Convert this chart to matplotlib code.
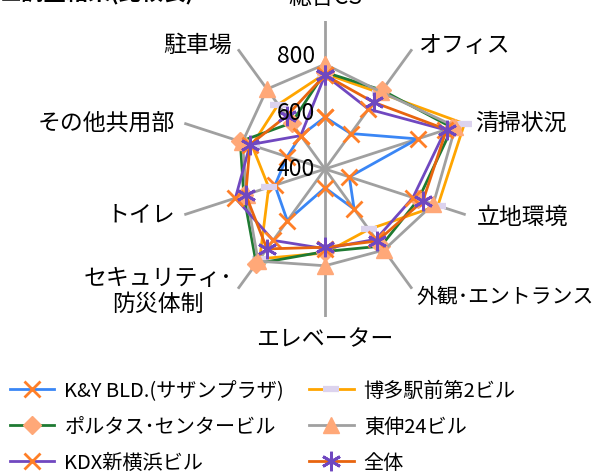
import numpy as np
import matplotlib
matplotlib.use("Agg")
import matplotlib.pyplot as plt

plt.rcParams['font.family'] = ['Noto Sans CJK JP', 'DejaVu Sans']

categories = ["総合CS", "オフィス", "清掃状況", "立地環境", "外観･エントランス", "エレベーター",
              "セキュリティ･\n防災体制", "トイレ", "その他共用部", "駐車場"]

ky = [582, 554, 742, 490, 574, 466, 625, 585, 540, 545]
hakata = [735, 730, 915, 817, 662, 695, 790, 608, 670, 680]
portas = [740, 742, 870, 745, 735, 690, 811, 700, 713, 600]
toshin = [768, 735, 882, 800, 752, 740, 800, 690, 705, 747]
kdx = [730, 660, 845, 725, 705, 680, 710, 731, 677, 545]
zentai = [730, 690, 849, 762, 713, 675, 747, 693, 677, 630]

series_names = ["K&Y BLD.(サザンプラザ)", "博多駅前第2ビル", "ポルタス･センタービル",
                "東伸24ビル", "KDX新横浜ビル", "全体"]
r_ticks = [400, 600, 800]
r_min, r_max = 400, 920

styles = [
    dict(color="#3A86F5", marker="x", mfc="#FF7F27", mec="#FF7F27", ms=12, mew=2),
    dict(color="#FFA500", marker="_", mfc="#DCD3EE", mec="#DCD3EE", ms=12, mew=4.5),
    dict(color="#1E7A32", marker="D", mfc="#FFA878", mec="#FFA878", ms=9, mew=1),
    dict(color="#A0A0A0", marker="^", mfc="#FFA878", mec="#FFA878", ms=12, mew=1),
    dict(color="#7048C0", marker="x", mfc="#FF7F27", mec="#FF7F27", ms=12, mew=2),
    dict(color="#E8650F", marker=(6, 2, 0), mfc="#7048C0", mec="#7048C0", ms=14, mew=2),
]
data = [ky, hakata, portas, toshin, kdx, zentai]

W, H = 597, 477
fig = plt.figure(figsize=(W / 100, H / 100), dpi=100)
cx, cy, R = 325, 170, 148
ax = fig.add_axes([(cx - R) / W, (H - cy - R) / H, 2 * R / W, 2 * R / H], projection="polar")
ax.set_theta_zero_location("N")
ax.set_theta_direction(-1)
ax.set_ylim(r_min, r_max)
ax.grid(False)
ax.spines["polar"].set_visible(False)
ax.set_xticks([])
ax.set_yticks([])

n = len(categories)
theta = np.arange(n) * 2 * np.pi / n

for t in theta:
    ax.plot([t, t], [r_min, r_max], color="#A0A0A0", lw=2, zorder=1)

lines = []
for vals, st in zip(data, styles):
    v = list(vals) + [vals[0]]
    t = list(theta) + [theta[0]]
    ln, = ax.plot(t, v, lw=2, zorder=3, clip_on=False, **st)
    lines.append(ln)

for rv in r_ticks:
    ax.annotate(str(rv), xy=(0, rv), xytext=(-10, 0), textcoords="offset pixels",
                ha="right", va="center", fontsize=16.5, zorder=5)

offsets = [(0, 24, "center"), (6, 5, "left"), (9, 1, "left"), (11, -2, "left"),
           (5, -7, "left"), (0, -22, "center"), (-6, -2, "right"), (-9, 1, "right"),
           (-9, 1, "right"), (-6, 5, "right")]
sizes = [16.5, 16.5, 16.5, 16.5, 15, 16.5, 16.5, 16.5, 16.5, 16.5]
for t, lab, (dx, dy, ha), fs in zip(theta, categories, offsets, sizes):
    ax.annotate(lab, xy=(t, r_max), xytext=(dx, dy), textcoords="offset pixels",
                ha=ha, va="center", multialignment="center", fontsize=fs,
                annotation_clip=False, linespacing=1.15)

fig.text(0.0, 1.0 + 6 / H, "■調査結果(比較表)", ha="left", va="center",
         fontsize=16, fontweight="bold")

order = [0, 2, 4, 1, 3, 5]
fig.legend([lines[i] for i in order], [series_names[i] for i in order],
           ncol=2, loc="upper left", bbox_to_anchor=(10 / W, 1 - 381 / H),
           frameon=False, fontsize=14.5, handlelength=2.2, handletextpad=0.5,
           columnspacing=1.25, labelspacing=0.75, borderaxespad=0, borderpad=0)

fig.savefig("out.png", dpi=100)
